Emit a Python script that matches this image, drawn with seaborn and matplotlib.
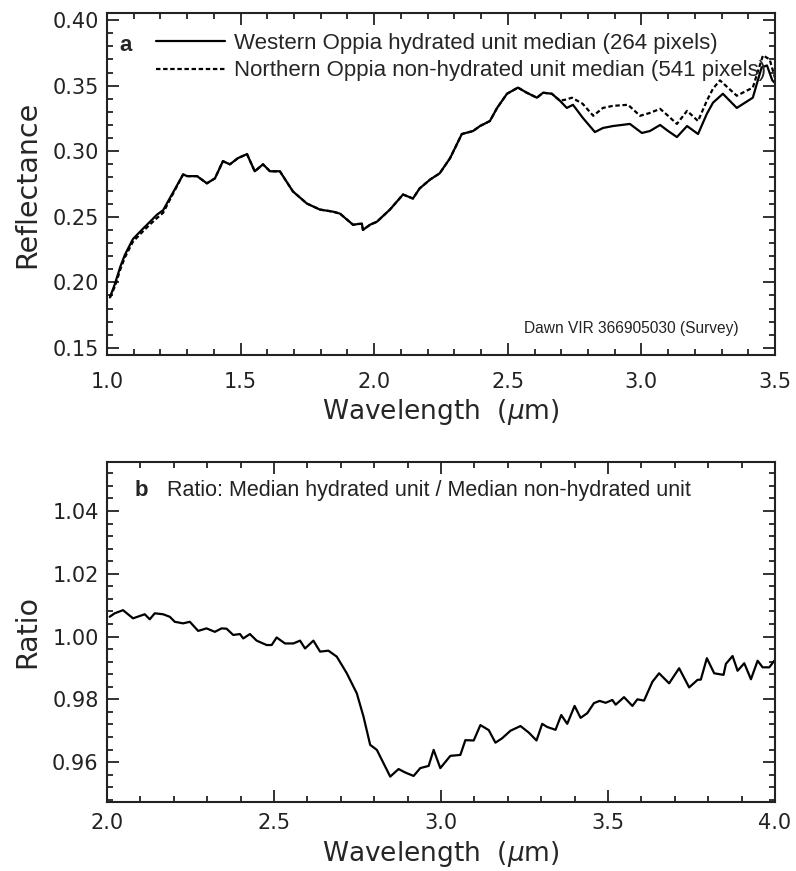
import numpy as np
import pandas as pd
import matplotlib
matplotlib.use("Agg")
import matplotlib.pyplot as plt
import seaborn as sns
from matplotlib.ticker import MultipleLocator

# ---------------- data ----------------
wl_hyd = [1.011, 1.030, 1.050, 1.067, 1.097, 1.135, 1.160, 1.187, 1.210, 1.243,
          1.285, 1.300, 1.337, 1.374, 1.404, 1.434, 1.460, 1.490, 1.524, 1.553,
          1.584, 1.610, 1.647, 1.696, 1.748, 1.797, 1.846, 1.872, 1.921, 1.940,
          1.954, 1.958, 1.985, 2.010, 2.059, 2.108, 2.145, 2.170, 2.210, 2.245,
          2.284, 2.328, 2.370, 2.396, 2.433, 2.460, 2.497, 2.538, 2.571, 2.609,
          2.632, 2.665, 2.695, 2.721, 2.744, 2.781, 2.826, 2.856, 2.894, 2.957,
          3.002, 3.032, 3.070, 3.100, 3.133, 3.171, 3.212, 3.245, 3.268, 3.305,
          3.357, 3.417, 3.450, 3.470, 3.490, 3.500]
refl_hyd = [0.1885, 0.199, 0.212, 0.221, 0.233, 0.241, 0.246, 0.2516, 0.255, 0.267,
            0.2823, 0.281, 0.281, 0.2755, 0.2793, 0.2924, 0.290, 0.2947, 0.2978, 0.2847,
            0.290, 0.2847, 0.2847, 0.2693, 0.2601, 0.2555, 0.2539, 0.2524, 0.2439, 0.2445,
            0.2447, 0.2400, 0.2440, 0.2462, 0.2555, 0.2670, 0.2639, 0.2716, 0.2785, 0.2831,
            0.2947, 0.3131, 0.3154, 0.3192, 0.3230, 0.3330, 0.3438, 0.3485, 0.3446, 0.3408,
            0.3446, 0.3438, 0.3385, 0.3330, 0.3354, 0.3254, 0.3146, 0.3177, 0.3192, 0.3208,
            0.3139, 0.3154, 0.3200, 0.3154, 0.3108, 0.3192, 0.3131, 0.3285, 0.3370, 0.3438,
            0.3330, 0.3408, 0.3639, 0.3654, 0.3540, 0.3520]

wl_non = [1.011, 1.030, 1.050, 1.067, 1.097, 1.135, 1.160, 1.187, 1.210, 1.243,
          1.285, 1.300, 1.337, 1.374, 1.404, 1.434, 1.460, 1.490, 1.524, 1.553,
          1.584, 1.610, 1.647, 1.696, 1.748, 1.797, 1.846, 1.872, 1.921, 1.940,
          1.954, 1.958, 1.985, 2.010, 2.059, 2.108, 2.145, 2.170, 2.210, 2.245,
          2.284, 2.328, 2.370, 2.396, 2.433, 2.460, 2.497, 2.538, 2.571, 2.609,
          2.632, 2.665, 2.695, 2.720, 2.740, 2.780, 2.820, 2.856, 2.894, 2.950,
          2.995, 3.032, 3.070, 3.100, 3.133, 3.171, 3.212, 3.245, 3.268, 3.294,
          3.357, 3.417, 3.455, 3.480, 3.500]
refl_non = [0.1885, 0.197, 0.210, 0.219, 0.231, 0.239, 0.244, 0.249, 0.253, 0.266,
            0.2823, 0.281, 0.281, 0.2755, 0.2793, 0.2924, 0.290, 0.2947, 0.2978, 0.2847,
            0.290, 0.2847, 0.2847, 0.2693, 0.2601, 0.2555, 0.2539, 0.2524, 0.2439, 0.2445,
            0.2447, 0.2400, 0.2440, 0.2462, 0.2555, 0.2670, 0.2639, 0.2716, 0.2785, 0.2831,
            0.2947, 0.3131, 0.3154, 0.3192, 0.3230, 0.3330, 0.3438, 0.3485, 0.3446, 0.3408,
            0.3446, 0.3438, 0.3385, 0.3395, 0.3408, 0.3362, 0.3270, 0.3330, 0.3346, 0.3354,
            0.3270, 0.3292, 0.3323, 0.3270, 0.3208, 0.3308, 0.3230, 0.3385, 0.3477, 0.3540,
            0.3423, 0.3485, 0.3731, 0.3700, 0.3560]

wl_ratio = [2.008, 2.023, 2.048, 2.078, 2.113, 2.128, 2.143, 2.168, 2.188, 2.203,
            2.228, 2.248, 2.273, 2.298, 2.323, 2.343, 2.358, 2.378, 2.398, 2.408,
            2.428, 2.448, 2.478, 2.493, 2.508, 2.533, 2.558, 2.578, 2.593, 2.618,
            2.638, 2.663, 2.688, 2.718, 2.748, 2.768, 2.788, 2.808, 2.848, 2.873,
            2.893, 2.918, 2.938, 2.963, 2.978, 2.998, 3.028, 3.058, 3.073, 3.098,
            3.118, 3.143, 3.163, 3.183, 3.208, 3.238, 3.263, 3.286, 3.303, 3.318,
            3.343, 3.360, 3.378, 3.400, 3.418, 3.438, 3.458, 3.475, 3.493, 3.513,
            3.523, 3.548, 3.573, 3.588, 3.608, 3.633, 3.653, 3.683, 3.713, 3.743,
            3.768, 3.778, 3.796, 3.818, 3.846, 3.853, 3.873, 3.888, 3.908, 3.928,
            3.948, 3.963, 3.983, 3.998]
ratio = [1.0063, 1.0074, 1.0084, 1.0058, 1.0071, 1.0055, 1.0074, 1.0071, 1.0063, 1.0047,
         1.0042, 1.0047, 1.0018, 1.0026, 1.0015, 1.0026, 1.0025, 1.0005, 1.0008, 0.9994,
         1.0008, 0.9987, 0.9973, 0.9973, 0.9997, 0.9978, 0.9978, 0.9987, 0.9962, 0.9987,
         0.9952, 0.9955, 0.9936, 0.9883, 0.9819, 0.9745, 0.9655, 0.9639, 0.9554, 0.9578,
         0.9567, 0.9556, 0.9581, 0.9588, 0.9639, 0.9581, 0.9620, 0.9623, 0.9670, 0.9669,
         0.9718, 0.9702, 0.9662, 0.9676, 0.9700, 0.9715, 0.9694, 0.9669, 0.9722, 0.9712,
         0.9703, 0.9750, 0.9722, 0.9779, 0.9741, 0.9756, 0.9788, 0.9795, 0.9789, 0.9798,
         0.9783, 0.9807, 0.9779, 0.9800, 0.9796, 0.9856, 0.9883, 0.9851, 0.9899, 0.9838,
         0.9862, 0.9863, 0.9931, 0.9883, 0.9878, 0.9913, 0.9938, 0.9891, 0.9915, 0.9864,
         0.9923, 0.9902, 0.9902, 0.9923]

labels = ["Western Oppia hydrated unit median (264 pixels)",
          "Northern Oppia non-hydrated unit median (541 pixels)"]
xticks_a = [1.0, 1.5, 2.0, 2.5, 3.0, 3.5]
yticks_a = [0.15, 0.20, 0.25, 0.30, 0.35, 0.40]
xticks_b = [2.0, 2.5, 3.0, 3.5, 4.0]
yticks_b = [0.96, 0.98, 1.00, 1.02, 1.04]

# ---------------- styling ----------------
sns.set_theme(style="ticks")
plt.rcParams["font.family"] = ["DejaVu Sans"]
plt.rcParams["axes.linewidth"] = 1.5

df_a = pd.concat([
    pd.DataFrame({"wl": wl_hyd, "refl": refl_hyd, "unit": labels[0]}),
    pd.DataFrame({"wl": wl_non, "refl": refl_non, "unit": labels[1]}),
], ignore_index=True)
df_b = pd.DataFrame({"wl": wl_ratio, "ratio": ratio})

fig = plt.figure(figsize=(7.96, 8.71), dpi=100)
ax1 = fig.add_axes([0.1344, 0.5924, 0.8392, 0.3927])
ax2 = fig.add_axes([0.1344, 0.0792, 0.8392, 0.3904])

sns.lineplot(data=df_a, x="wl", y="refl", style="unit", color="black",
             dashes={labels[0]: "", labels[1]: (2.0, 1.2)},
             estimator=None, sort=False, linewidth=1.6, ax=ax1, legend=True)
sns.lineplot(data=df_b, x="wl", y="ratio", color="black", estimator=None,
             sort=False, linewidth=1.6, ax=ax2)

ax1.set_xlim(1.0, 3.5)
ax1.set_ylim(0.1446, 0.4054)
ax2.set_xlim(2.0, 4.0)
ax2.set_ylim(0.9473, 1.0556)

xlabel_font = dict(family="DejaVu Sans", size=19)
ylabel_font = dict(family="DejaVu Sans", size=20.5)
for ax, xt, yt, xmin, ymin, ylab, xpad in [
        (ax1, xticks_a, yticks_a, 0.1, 0.01, "Reflectance", 12),
        (ax2, xticks_b, yticks_b, 0.1, 0.004, "Ratio", 8)]:
    ax.set_xticks(xt)
    ax.set_yticks(yt)
    ax.set_xticklabels([f"{v:.1f}" for v in xt])
    ax.set_yticklabels([f"{v:.2f}" for v in yt])
    ax.xaxis.set_minor_locator(MultipleLocator(xmin))
    ax.yaxis.set_minor_locator(MultipleLocator(ymin))
    ax.tick_params(which="both", direction="in", top=True, right=True,
                   labelsize=15, colors="#222222", width=1.3)
    ax.tick_params(which="major", length=8.5, pad=6)
    ax.tick_params(which="minor", length=4.3)
    ax.tick_params(axis="x", which="major", pad=xpad)
    ax.set_xlabel("Wavelength  ($\\mu$m)", fontdict=xlabel_font, labelpad=4)
    ax.set_ylabel(ylab, fontdict=ylabel_font, labelpad=8)
    for s in ax.spines.values():
        s.set_color("#222222")

# legend / annotations in panel a
handles, _ = ax1.get_legend_handles_labels()
leg = ax1.legend(handles=handles, labels=labels, loc="upper left",
                 bbox_to_anchor=(0.074, 0.942), frameon=False,
                 prop={"family": "Liberation Sans", "size": 16},
                 handlelength=3.1, handletextpad=0.4, borderpad=0,
                 borderaxespad=0, labelspacing=0.3)
ax1.text(0.019, 0.905, "a", transform=ax1.transAxes, fontsize=16,
         fontweight="bold", family="Liberation Sans", va="center", ha="left")
ax1.text(0.945, 0.078, "Dawn VIR 366905030 (Survey)", transform=ax1.transAxes,
         fontsize=11.2, family="Liberation Sans", ha="right", va="center",
         color="#222222")

ax2.text(0.042, 0.915, "b", transform=ax2.transAxes, fontsize=16,
         fontweight="bold", family="Liberation Sans", va="center", ha="left")
ax2.text(0.09, 0.915, "Ratio: Median hydrated unit / Median non-hydrated unit",
         transform=ax2.transAxes, fontsize=15.5, family="Liberation Sans",
         va="center", ha="left", color="#222222")

fig.savefig("out.png", dpi=100)
